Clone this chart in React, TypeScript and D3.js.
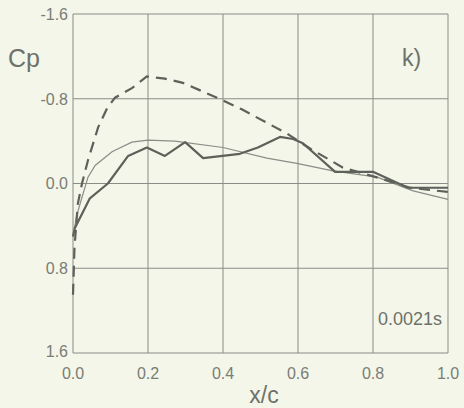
import React, { useEffect, useRef } from "react";
import * as d3 from "d3";

// pressure coefficient along the chord
const xTicks = [0.0, 0.2, 0.4, 0.6, 0.8, 1.0];
const yTicks = [-1.6, -0.8, 0.0, 0.8, 1.6];

const measuredX = [0.0, 0.005, 0.045, 0.093, 0.147, 0.197, 0.245, 0.299, 0.347, 0.445, 0.493, 0.552, 0.587, 0.613, 0.699, 0.8, 0.893, 1.0];
const measuredCp = [0.5, 0.42, 0.14, 0.0, -0.26, -0.34, -0.26, -0.39, -0.24, -0.28, -0.34, -0.44, -0.42, -0.38, -0.11, -0.11, 0.04, 0.04];

const dashedX = [0.0, 0.004, 0.013, 0.024, 0.04, 0.067, 0.091, 0.112, 0.157, 0.197, 0.245, 0.293, 0.384, 0.45, 0.571, 0.632, 0.72, 0.827, 0.899, 1.0];
const dashedCp = [1.05, 0.6, 0.19, 0.0, -0.22, -0.53, -0.71, -0.81, -0.9, -1.01, -0.99, -0.95, -0.81, -0.7, -0.47, -0.33, -0.15, -0.04, 0.04, 0.08];

const thinX = [0.0, 0.01, 0.024, 0.04, 0.059, 0.104, 0.157, 0.2, 0.272, 0.4, 0.517, 0.597, 0.693, 0.811, 0.907, 1.0];
const thinCp = [0.5, 0.3, 0.13, -0.06, -0.17, -0.3, -0.39, -0.41, -0.4, -0.34, -0.24, -0.19, -0.12, -0.06, 0.07, 0.15];

export default function App() {
  const ref = useRef<SVGSVGElement>(null);

  useEffect(() => {
    const width = 464, height = 408;
    const margin = { top: 14, right: 16, bottom: 55, left: 73 };
    const svg = d3.select(ref.current);
    svg.selectAll("*").remove();

    svg.append("rect").attr("width", width).attr("height", height).attr("fill", "#f3f6e9");

    const x = d3.scaleLinear().domain([0, 1]).range([margin.left, width - margin.right]);
    const y = d3.scaleLinear().domain([-1.6, 1.6]).range([margin.top, height - margin.bottom]);

    const font = "Liberation Sans, Arial, sans-serif";
    const textCol = "#7a7d76";

    // grid
    const grid = svg.append("g").attr("stroke", "#8a8c86").attr("stroke-width", 1);
    xTicks.forEach(t => {
      grid.append("line").attr("x1", x(t)).attr("x2", x(t)).attr("y1", y(-1.6)).attr("y2", y(1.6));
    });
    yTicks.forEach(t => {
      grid.append("line").attr("x1", x(0)).attr("x2", x(1)).attr("y1", y(t)).attr("y2", y(t));
    });

    // tick labels
    svg.append("g").selectAll("text").data(yTicks).enter().append("text")
      .attr("x", margin.left - 5)
      .attr("y", d => (d === 1.6 ? y(d) - 2 : y(d)))
      .attr("dy", "0.36em")
      .attr("text-anchor", "end")
      .attr("font-family", font).attr("font-size", 16).attr("fill", textCol)
      .text(d => d3.format(".1f")(d).replace("−", "-"));

    svg.append("g").selectAll("text").data(xTicks).enter().append("text")
      .attr("x", d => x(d))
      .attr("y", y(1.6) + 26)
      .attr("text-anchor", "middle")
      .attr("font-family", font).attr("font-size", 16).attr("fill", textCol)
      .text(d => d3.format(".1f")(d));

    const line = d3.line<[number, number]>().x(d => x(d[0])).y(d => y(d[1]));
    const pts = (xs: number[], ys: number[]) => xs.map((v, i) => [v, ys[i]] as [number, number]);

    svg.append("path").datum(pts(thinX, thinCp)).attr("d", line)
      .attr("fill", "none").attr("stroke", "#8b8d87").attr("stroke-width", 1.2);

    svg.append("path").datum(pts(dashedX, dashedCp)).attr("d", line)
      .attr("fill", "none").attr("stroke", "#5e605a").attr("stroke-width", 2.2)
      .attr("stroke-dasharray", "11,7");

    svg.append("path").datum(pts(measuredX, measuredCp)).attr("d", line)
      .attr("fill", "none").attr("stroke", "#5e605a").attr("stroke-width", 2.2)
      .attr("stroke-linejoin", "round");

    // labels
    svg.append("text").attr("x", 8).attr("y", 67)
      .attr("font-family", font).attr("font-size", 25).attr("fill", "#6e716a").text("Cp");
    svg.append("text").attr("x", 402).attr("y", 66)
      .attr("font-family", font).attr("font-size", 23).attr("fill", "#6e716a").text("k)");
    svg.append("text").attr("x", 378).attr("y", 325)
      .attr("font-family", font).attr("font-size", 18).attr("fill", "#6e716a").text("0.0021s");
    svg.append("text").attr("x", 264).attr("y", 403)
      .attr("text-anchor", "middle")
      .attr("font-family", font).attr("font-size", 23).attr("fill", "#6e716a").text("x/c");
  }, []);

  return (
    <svg ref={ref} width={464} height={408}
      style={{ position: "absolute", left: 0, top: 0, display: "block" }} />
  );
}
